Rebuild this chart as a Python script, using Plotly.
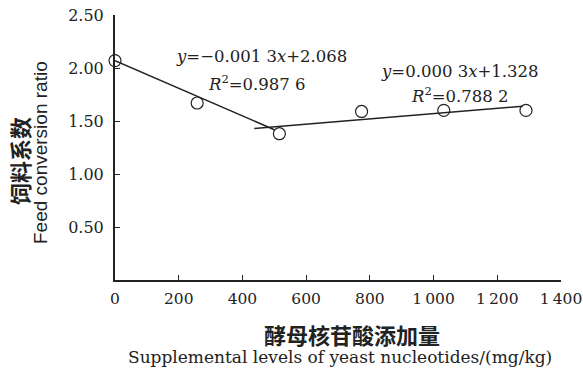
import plotly.graph_objects as go

# Data
levels = [0, 258, 516, 774, 1032, 1290]
fcr = [2.07, 1.67, 1.38, 1.59, 1.60, 1.60]

# Trend line 1: y = -0.0013x + 2.068 (drawn from 0 to ~500)
trend1_x = [0, 500]
slope1, icpt1 = -0.0013, 2.068
trend1_y = [slope1 * x + icpt1 for x in trend1_x]
# Trend line 2 as drawn in the figure
trend2_x = [437, 1280]
trend2_y = [1.43, 1.64]

x_ticks = [0, 200, 400, 600, 800, 1000, 1200, 1400]
x_ticktext = ["0", "200", "400", "600", "800", "1\u2009000", "1\u2009200", "1\u2009400"]
y_ticks = [0.5, 1.0, 1.5, 2.0, 2.5]
y_ticktext = ["0.50", "1.00", "1.50", "2.00", "2.50"]

serif = "DejaVu Serif, serif"
sans = "Liberation Sans, Arial, sans-serif"
cjk = "Noto Sans CJK SC"

W, H = 583, 373
ML, MR, MT, MB = 115, 22, 15, 93

fig = go.Figure()
fig.add_trace(go.Scatter(x=trend1_x, y=trend1_y, mode="lines",
                         line=dict(color="#222", width=1.5), showlegend=False, cliponaxis=False))
fig.add_trace(go.Scatter(x=trend2_x, y=trend2_y, mode="lines",
                         line=dict(color="#222", width=1.5), showlegend=False, cliponaxis=False))
fig.add_trace(go.Scatter(x=levels, y=fcr, mode="markers",
                         marker=dict(symbol="circle-open", size=12, color="#222", line=dict(width=1.2)),
                         showlegend=False, cliponaxis=False))

fig.update_layout(
    width=W, height=H,
    margin=dict(l=ML, r=MR, t=MT, b=MB),
    paper_bgcolor="white", plot_bgcolor="white",
    font=dict(family=serif, size=16, color="#222"),
    xaxis=dict(range=[0, 1400], tickvals=x_ticks, ticktext=x_ticktext,
               showline=True, linecolor="#222", linewidth=2, showgrid=False, zeroline=False,
               ticks="inside", ticklen=5, tickcolor="#222", tickfont=dict(family=serif, size=15.5),
               automargin=False, ticklabeloverflow="allow", ticklabelstandoff=3),
    yaxis=dict(range=[0, 2.5], tickvals=y_ticks, ticktext=y_ticktext,
               showline=True, linecolor="#222", linewidth=2, showgrid=False, zeroline=False,
               ticks="inside", ticklen=5, tickcolor="#222", tickfont=dict(family=serif, size=16),
               automargin=False, ticklabeloverflow="allow", ticklabelstandoff=6),
)

def px(xp):
    return (xp - ML) / (W - ML - MR)

def py(yp):
    return (H - MB - yp) / (H - MT - MB)

def note(xp, yp, text, font, angle=0):
    fig.add_annotation(x=px(xp), y=py(yp), xref="paper", yref="paper", text=text,
                       showarrow=False, xanchor="center", yanchor="middle",
                       textangle=angle, font=font)

ann = [
    (261, 57, "<i>y</i>=\u22120.001 3<i>x</i>+2.068"),
    (257, 83, "<i>R</i><sup>2</sup>=0.987 6"),
    (460, 72, "<i>y</i>=0.000 3<i>x</i>+1.328"),
    (460, 95, "<i>R</i><sup>2</sup>=0.788 2"),
]
for xp, yp, t in ann:
    note(xp, yp, t, dict(family=serif, size=16.5, color="#222"))

note(352, 334, "<b>酵母核苷酸添加量</b>", dict(family=cjk, size=22, color="#222"))
note(340, 357, "Supplemental levels of yeast nucleotides/(mg/kg)", dict(family=serif, size=17, color="#222"))
note(19, 161, "<b>饲料系数</b>", dict(family=cjk, size=22, color="#222"), -90)
note(40, 153, "Feed conversion ratio", dict(family=sans, size=19, color="#222"), -90)

fig.write_html("out.html", config={"displayModeBar": False},
               post_script="document.body.style.margin='0';")
